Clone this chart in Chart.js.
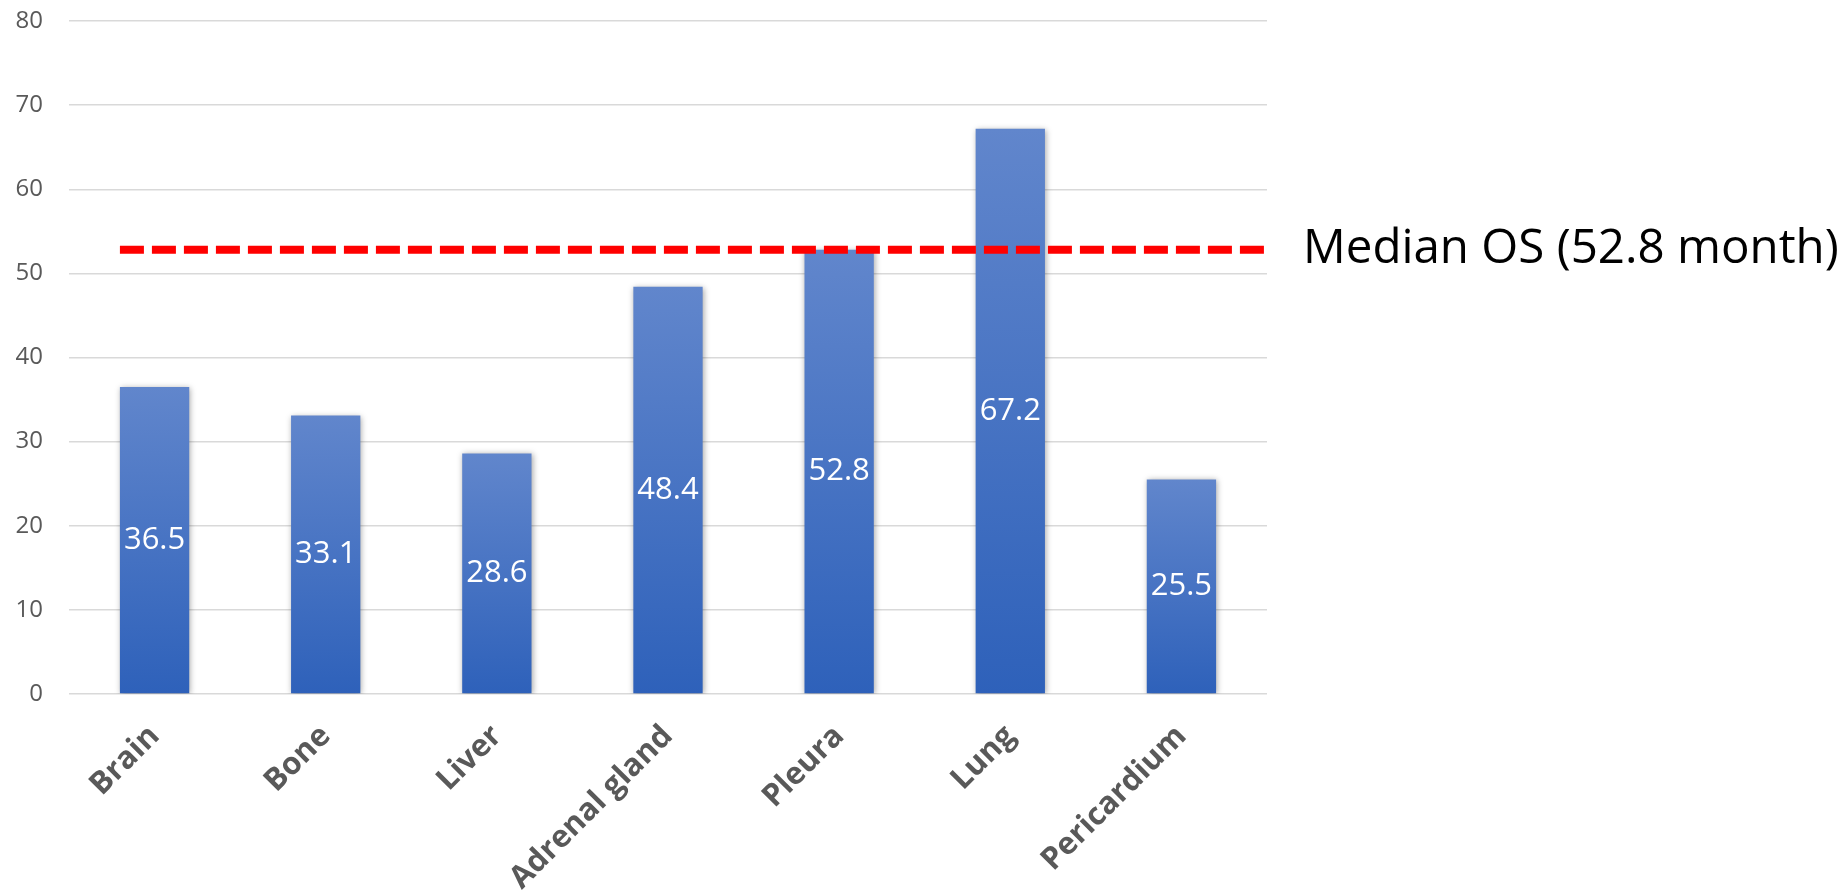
<!DOCTYPE html>
<html>
<head>
<meta charset="utf-8">
<script src="https://cdn.jsdelivr.net/npm/chart.js@4/dist/chart.umd.min.js"></script>
<style>
  body { margin: 0; background: #ffffff; }
  #contenedor { width: 1844px; height: 894px; }
</style>
</head>
<body>
<div id="contenedor"><canvas id="barChart" width="1844" height="894"></canvas></div>
<script>
// datos
const sitios = ['Brain', 'Bone', 'Liver', 'Adrenal gland', 'Pleura', 'Lung', 'Pericardium'];
const supervivencia = [36.5, 33.1, 28.6, 48.4, 52.8, 67.2, 25.5];
const medianaOS = 52.8;
const textoMediana = 'Median OS (52.8 month)';
const ejeYMin = 0;
const ejeYMax = 80;
const ejeYPaso = 10;

const fuente = "'Open Sans', 'Noto Sans', sans-serif";

// degradado por barra, de arriba (claro) a la base (oscuro)
const colorBarra = (context) => {
  const chart = context.chart;
  const { ctx, chartArea, scales } = chart;
  if (!chartArea || context.raw === undefined) return '#4472c4';
  const yArriba = scales.y.getPixelForValue(context.raw);
  const yBase = scales.y.getPixelForValue(0);
  const g = ctx.createLinearGradient(0, yArriba, 0, yBase);
  g.addColorStop(0, '#6186cc');
  g.addColorStop(1, '#2e61ba');
  return g;
};

// sombra suave de las barras
const sombraBarras = {
  id: 'sombraBarras',
  beforeDatasetDraw(chart) {
    const ctx = chart.ctx;
    ctx.save();
    ctx.shadowColor = 'rgba(0, 0, 0, 0.35)';
    ctx.shadowBlur = 6;
    ctx.shadowOffsetX = 1;
    ctx.shadowOffsetY = 1;
  },
  afterDatasetDraw(chart) {
    chart.ctx.restore();
  }
};

// etiquetas de valor y linea de la mediana
const extras = {
  id: 'extras',
  afterDatasetsDraw(chart) {
    const ctx = chart.ctx;
    const meta = chart.getDatasetMeta(0);
    ctx.save();
    ctx.fillStyle = '#ffffff';
    ctx.font = '31px ' + fuente;
    ctx.textAlign = 'center';
    ctx.textBaseline = 'middle';
    meta.data.forEach((barra, i) => {
      ctx.fillText(String(supervivencia[i]), barra.x, (barra.y + barra.base) / 2);
    });

    const y = chart.scales.y.getPixelForValue(medianaOS);
    const x0 = meta.data[0].x - meta.data[0].width / 2;
    const x1 = chart.chartArea.right;
    ctx.strokeStyle = '#ff0000';
    ctx.lineWidth = 8;
    ctx.setLineDash([24, 8]);
    ctx.beginPath();
    ctx.moveTo(x0, y);
    ctx.lineTo(x1, y);
    ctx.stroke();

    ctx.setLineDash([]);
    ctx.fillStyle = '#000000';
    ctx.font = '47.5px ' + fuente;
    ctx.textAlign = 'left';
    ctx.textBaseline = 'middle';
    ctx.fillText(textoMediana, x1 + 36, y);
    ctx.restore();
  }
};

const ctxBarras = document.getElementById('barChart').getContext('2d');
const configuracion = {
  type: 'bar',
  data: {
    labels: sitios,
    datasets: [{
      data: supervivencia,
      backgroundColor: colorBarra,
      borderWidth: 0,
      barPercentage: 0.81,
      categoryPercentage: 0.5
    }]
  },
  options: {
    responsive: false,
    animation: false,
    layout: {
      padding: { left: 0, right: 577, top: 21, bottom: 0 }
    },
    scales: {
      x: {
        grid: { display: false },
        border: { display: false },
        ticks: {
          color: '#595959',
          font: { family: fuente, size: 31, weight: 'bold' },
          minRotation: 45,
          maxRotation: 45,
          padding: 16
        },
        afterFit(scale) {
          scale.height = 200;
        }
      },
      y: {
        min: ejeYMin,
        max: ejeYMax,
        border: { display: false },
        grid: { color: '#d9d9d9', lineWidth: 1.5, drawTicks: false },
        ticks: {
          stepSize: ejeYPaso,
          color: '#595959',
          font: { family: fuente, size: 24 },
          padding: 26
        },
        afterFit(scale) {
          scale.width = 69;
          scale.paddingTop = 0;
          scale.paddingBottom = 0;
        }
      }
    },
    plugins: {
      legend: { display: false },
      tooltip: { enabled: false }
    }
  },
  plugins: [sombraBarras, extras]
};
var graficaBarras = new Chart(ctxBarras, configuracion);
</script>
</body>
</html>
